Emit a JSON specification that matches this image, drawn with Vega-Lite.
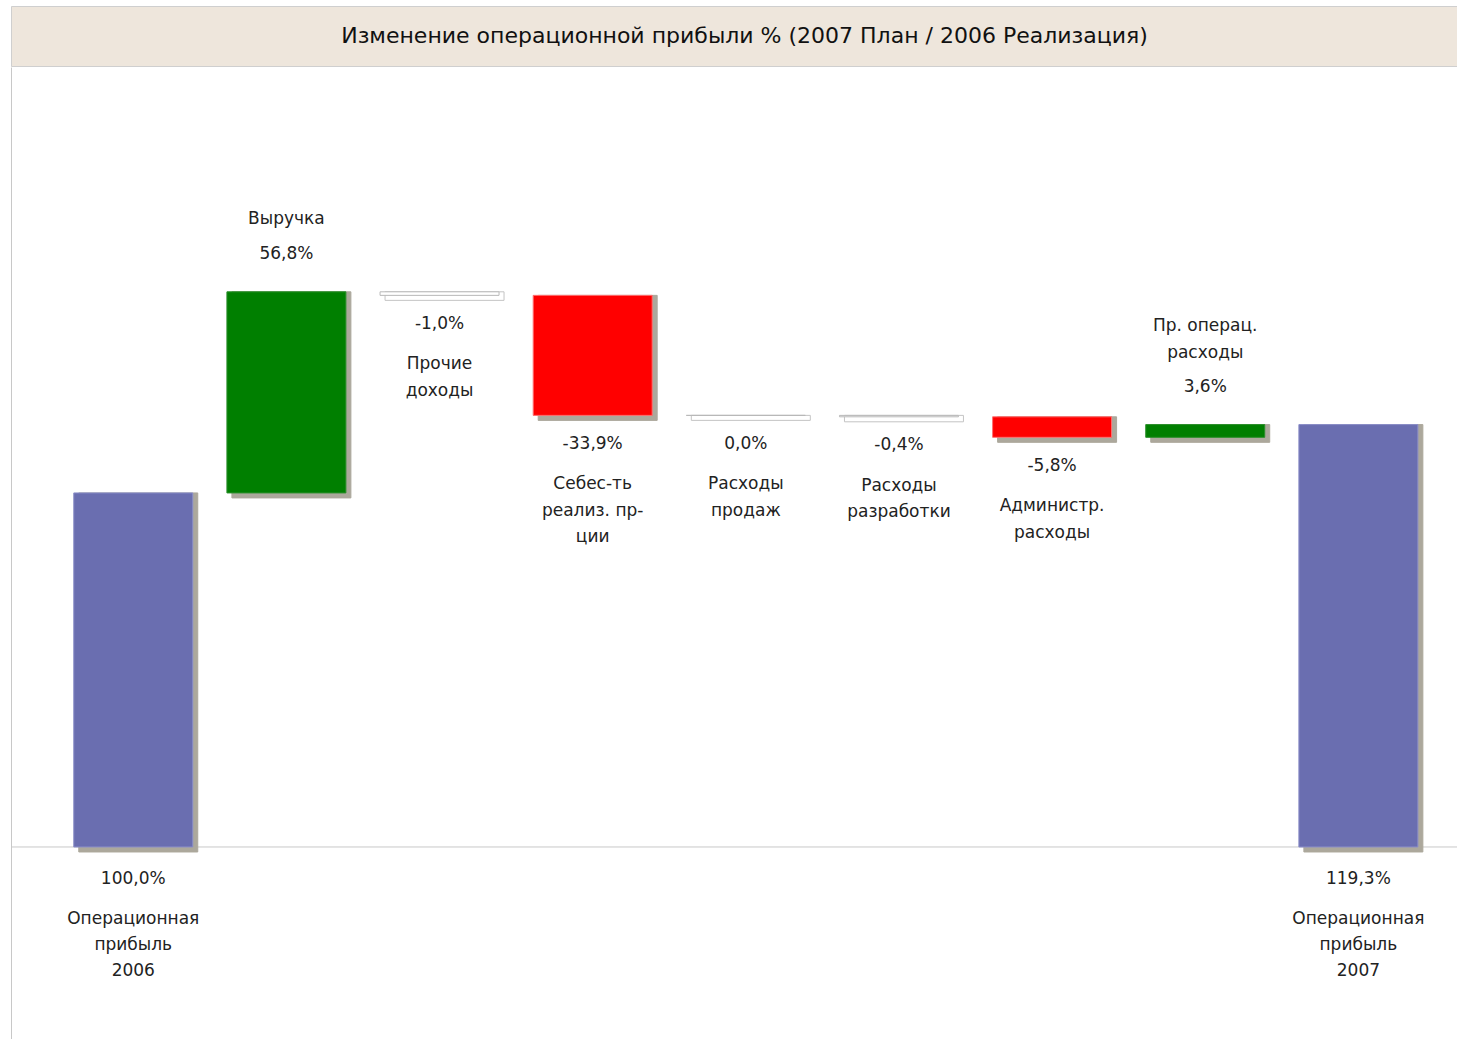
{
  "$schema": "https://vega.github.io/schema/vega-lite/v6.json",
  "padding": {"left": 10, "top": 5, "right": 0, "bottom": 0},
  "background": "white",
  "spacing": 0,
  "config": {"view": {"stroke": null}, "concat": {"spacing": 0}},
  "datasets": {
    "bars": [
      {"cat": "c1", "kind": "total", "lines": 3, "lo": 0, "hi": 100, "label": "100,0%", "name": "Операционная\nприбыль\n2006"},
      {"cat": "c2", "kind": "up", "lines": 1, "lo": 100, "hi": 156.8, "label": "56,8%", "name": "Выручка"},
      {"cat": "c3", "kind": "tiny", "lines": 2, "lo": 155.8, "hi": 156.8, "label": "-1,0%", "name": "Прочие\nдоходы"},
      {"cat": "c4", "kind": "down", "lines": 3, "lo": 121.9, "hi": 155.8, "label": "-33,9%", "name": "Себес-ть\nреализ. пр-\nции"},
      {"cat": "c5", "kind": "tiny", "lines": 2, "lo": 121.9, "hi": 121.9, "label": "0,0%", "name": "Расходы\nпродаж"},
      {"cat": "c6", "kind": "tiny", "lines": 2, "lo": 121.5, "hi": 121.9, "label": "-0,4%", "name": "Расходы\nразработки"},
      {"cat": "c7", "kind": "down", "lines": 2, "lo": 115.7, "hi": 121.5, "label": "-5,8%", "name": "Администр.\nрасходы"},
      {"cat": "c8", "kind": "up", "lines": 2, "lo": 115.7, "hi": 119.3, "label": "3,6%", "name": "Пр. операц.\nрасходы"},
      {"cat": "c9", "kind": "total", "lines": 3, "lo": 0, "hi": 119.3, "label": "119,3%", "name": "Операционная\nприбыль\n2007"}
    ]
  },
  "vconcat": [
    {
      "width": 1447,
      "height": 60,
      "view": {"fill": "#eee6dc", "stroke": "#cfcfcf"},
      "data": {"values": [{"t": "Изменение операционной прибыли % (2007 План / 2006 Реализация)"}]},
      "mark": {"type": "text", "fontSize": 22, "font": "DejaVu Sans", "color": "#111111", "baseline": "middle", "align": "center", "dx": 10},
      "encoding": {"text": {"field": "t", "type": "nominal"}}
    },
    {
      "width": 1447,
      "height": 974,
      "data": {"name": "bars"},
      "resolve": {"scale": {"fill": "independent", "stroke": "independent"}},
      "layer": [
        {
          "data": {"values": [{"z": 0}]},
          "mark": {"type": "rule", "color": "#c8c8c8", "strokeWidth": 1},
          "encoding": {
            "y": {"datum": 0, "type": "quantitative", "scale": {"domain": [-54.8, 220.3], "nice": false, "zero": false},
                  "axis": {"domain": true, "domainColor": "#c8c8c8", "labels": false, "ticks": false, "grid": false, "title": null, "minExtent": 0, "maxExtent": 0}}
          }
        },
        {
          "mark": {"type": "bar", "xOffset": 5, "yOffset": 5, "strokeWidth": 1},
          "encoding": {
            "x": {"field": "cat", "type": "nominal", "sort": null, "scale": {"paddingInner": 0.223, "paddingOuter": 0.336, "align": 0.61}, "axis": null},
            "y": {"field": "lo", "type": "quantitative"},
            "y2": {"field": "hi"},
            "fill": {"field": "kind", "type": "nominal", "legend": null,
                     "scale": {"domain": ["total", "up", "down", "tiny"], "range": ["#aca89c", "#aca89c", "#aca89c", "#ffffff"]}},
            "stroke": {"field": "kind", "type": "nominal", "legend": null,
                       "scale": {"domain": ["total", "up", "down", "tiny"], "range": ["#aca89c", "#aca89c", "#aca89c", "#c4c4c4"]}}
          }
        },
        {
          "mark": {"type": "bar", "strokeWidth": 1},
          "encoding": {
            "x": {"field": "cat", "type": "nominal", "sort": null, "axis": null},
            "y": {"field": "lo", "type": "quantitative"},
            "y2": {"field": "hi"},
            "fill": {"field": "kind", "type": "nominal", "legend": null,
                     "scale": {"domain": ["total", "up", "down", "tiny"], "range": ["#6a6eb0", "#007f00", "#ff0000", "#ffffff"]}},
            "stroke": {"field": "kind", "type": "nominal", "legend": null,
                       "scale": {"domain": ["total", "up", "down", "tiny"], "range": ["#8a8ec8", "#2a8f2a", "#ff7070", "#b8b8b8"]}}
          }
        },
        {
          "transform": [{"filter": "datum.kind === 'down' || datum.kind === 'tiny'"}],
          "mark": {"type": "text", "font": "DejaVu Sans", "fontSize": 17, "color": "#222222", "baseline": "middle", "dy": 28.5},
          "encoding": {
            "x": {"field": "cat", "type": "nominal", "sort": null, "axis": null, "bandPosition": 0.5},
            "y": {"field": "lo", "type": "quantitative"},
            "text": {"field": "label", "type": "nominal"}
          }
        },
        {
          "transform": [{"filter": "datum.kind === 'down' || datum.kind === 'tiny'"}],
          "mark": {"type": "text", "font": "DejaVu Sans", "fontSize": 17, "color": "#222222", "baseline": "top", "dy": 61, "lineBreak": "\n", "lineHeight": 26.5},
          "encoding": {
            "x": {"field": "cat", "type": "nominal", "sort": null, "axis": null, "bandPosition": 0.5},
            "y": {"field": "lo", "type": "quantitative"},
            "text": {"field": "name", "type": "nominal"}
          }
        },
        {
          "transform": [{"filter": "datum.kind === 'up'"}],
          "mark": {"type": "text", "font": "DejaVu Sans", "fontSize": 17, "color": "#222222", "baseline": "middle", "dy": -37.5},
          "encoding": {
            "x": {"field": "cat", "type": "nominal", "sort": null, "axis": null, "bandPosition": 0.5},
            "y": {"field": "hi", "type": "quantitative"},
            "text": {"field": "label", "type": "nominal"}
          }
        },
        {
          "transform": [{"filter": "datum.kind === 'up' && datum.lines === 1"}],
          "mark": {"type": "text", "font": "DejaVu Sans", "fontSize": 17, "color": "#222222", "baseline": "middle", "dy": -73},
          "encoding": {
            "x": {"field": "cat", "type": "nominal", "sort": null, "axis": null, "bandPosition": 0.5},
            "y": {"field": "hi", "type": "quantitative"},
            "text": {"field": "name", "type": "nominal"}
          }
        },
        {
          "transform": [{"filter": "datum.kind === 'up' && datum.lines === 2"}],
          "mark": {"type": "text", "font": "DejaVu Sans", "fontSize": 17, "color": "#222222", "baseline": "middle", "dy": -99, "lineBreak": "\n", "lineHeight": 27},
          "encoding": {
            "x": {"field": "cat", "type": "nominal", "sort": null, "axis": null, "bandPosition": 0.5},
            "y": {"field": "hi", "type": "quantitative"},
            "text": {"field": "name", "type": "nominal"}
          }
        },
        {
          "transform": [{"filter": "datum.kind === 'total'"}],
          "mark": {"type": "text", "font": "DejaVu Sans", "fontSize": 17, "color": "#222222", "baseline": "middle", "dy": 32},
          "encoding": {
            "x": {"field": "cat", "type": "nominal", "sort": null, "axis": null, "bandPosition": 0.5},
            "y": {"field": "lo", "type": "quantitative"},
            "text": {"field": "label", "type": "nominal"}
          }
        },
        {
          "transform": [{"filter": "datum.kind === 'total'"}],
          "mark": {"type": "text", "font": "DejaVu Sans", "fontSize": 17, "color": "#222222", "baseline": "top", "dy": 64, "lineBreak": "\n", "lineHeight": 26},
          "encoding": {
            "x": {"field": "cat", "type": "nominal", "sort": null, "axis": null, "bandPosition": 0.5},
            "y": {"field": "lo", "type": "quantitative"},
            "text": {"field": "name", "type": "nominal"}
          }
        }
      ]
    }
  ]
}
